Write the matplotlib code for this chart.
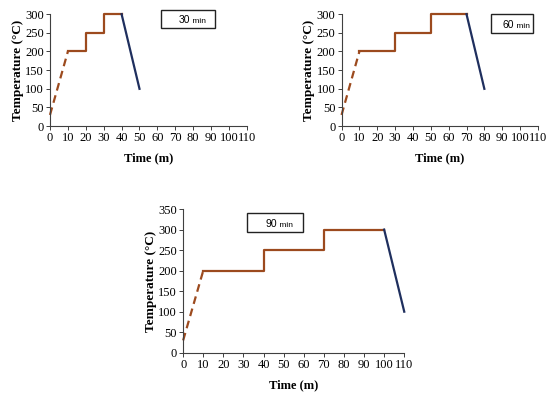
import matplotlib.pyplot as plt
from matplotlib.patches import Rectangle

# heating schedules (time in min, temperature in degC)
ramp_t = [0, 10]
ramp_T = [30, 200]

hold_t_30 = [10, 20, 20, 30, 30, 40]
hold_T_30 = [200, 200, 250, 250, 300, 300]
cool_t_30 = [40, 50]
cool_T_30 = [300, 100]

hold_t_60 = [10, 30, 30, 50, 50, 70]
hold_T_60 = [200, 200, 250, 250, 300, 300]
cool_t_60 = [70, 80]
cool_T_60 = [300, 100]

hold_t_90 = [10, 40, 40, 70, 70, 100]
hold_T_90 = [200, 200, 250, 250, 300, 300]
cool_t_90 = [100, 110]
cool_T_90 = [300, 100]

labels = ["30", "60", "90"]
x_ticks = list(range(0, 111, 10))

brown = "#9C4A1E"
navy = "#1F2F5E"
serif = "Liberation Serif"

fig = plt.figure(figsize=(5.5, 3.93), dpi=100)

panels = [
    ([0.0909, 0.679, 0.358, 0.285], hold_t_30, hold_T_30, cool_t_30, cool_T_30, 300, 50,
     [161 / 550, 1 - 28 / 393, 54 / 550, 18 / 393]),
    ([0.621, 0.679, 0.357, 0.285], hold_t_60, hold_T_60, cool_t_60, cool_T_60, 300, 50,
     [491 / 550, 1 - 33 / 393, 42 / 550, 19 / 393]),
    ([0.333, 0.1025, 0.402, 0.3655], hold_t_90, hold_T_90, cool_t_90, cool_T_90, 350, 50,
     [247 / 550, 1 - 232 / 393, 56 / 550, 19 / 393]),
]

for (rect, ht, hT, ct, cT, ymax, ystep, box), lab in zip(panels, labels):
    ax = fig.add_axes(rect)
    ax.plot(ramp_t, ramp_T, color=brown, lw=1.6, linestyle=(0, (3.5, 2.2)), clip_on=False)
    ax.plot(ht, hT, color=brown, lw=1.6, clip_on=False)
    ax.plot(ct, cT, color=navy, lw=1.6, clip_on=False)
    ax.set_xlim(0, 110)
    ax.set_ylim(0, ymax)
    ax.set_xticks(x_ticks)
    ax.set_yticks(range(0, ymax + 1, ystep))
    for s in ["top", "right"]:
        ax.spines[s].set_visible(False)
    for s in ["left", "bottom"]:
        ax.spines[s].set_color("#404040")
        ax.spines[s].set_linewidth(0.8)
    ax.tick_params(length=3, width=0.7, color="#404040", labelsize=9, pad=1.5)
    for t in ax.get_xticklabels() + ax.get_yticklabels():
        t.set_fontfamily(serif)
    ax.set_xlabel("Time (m)", fontfamily=serif, fontweight="bold", fontsize=9, labelpad=6)
    ax.set_ylabel("Temperature (°C)", fontfamily=serif, fontweight="bold", fontsize=9.5, labelpad=1)

    # label box
    bx, by, bw, bh = box
    fig.patches.append(Rectangle((bx, by), bw, bh, transform=fig.transFigure,
                                 facecolor="white", edgecolor="#222222", lw=1.0))
    cx = bx + bw / 2 + 0.004
    cy = by + bh / 2 - 0.011
    fig.text(cx, cy, lab, ha="right", va="baseline", fontsize=7.5, fontfamily="Liberation Sans")
    fig.text(cx, cy, " min", ha="left", va="baseline", fontsize=6, fontfamily="Liberation Sans")

fig.savefig("out.png", dpi=100)
